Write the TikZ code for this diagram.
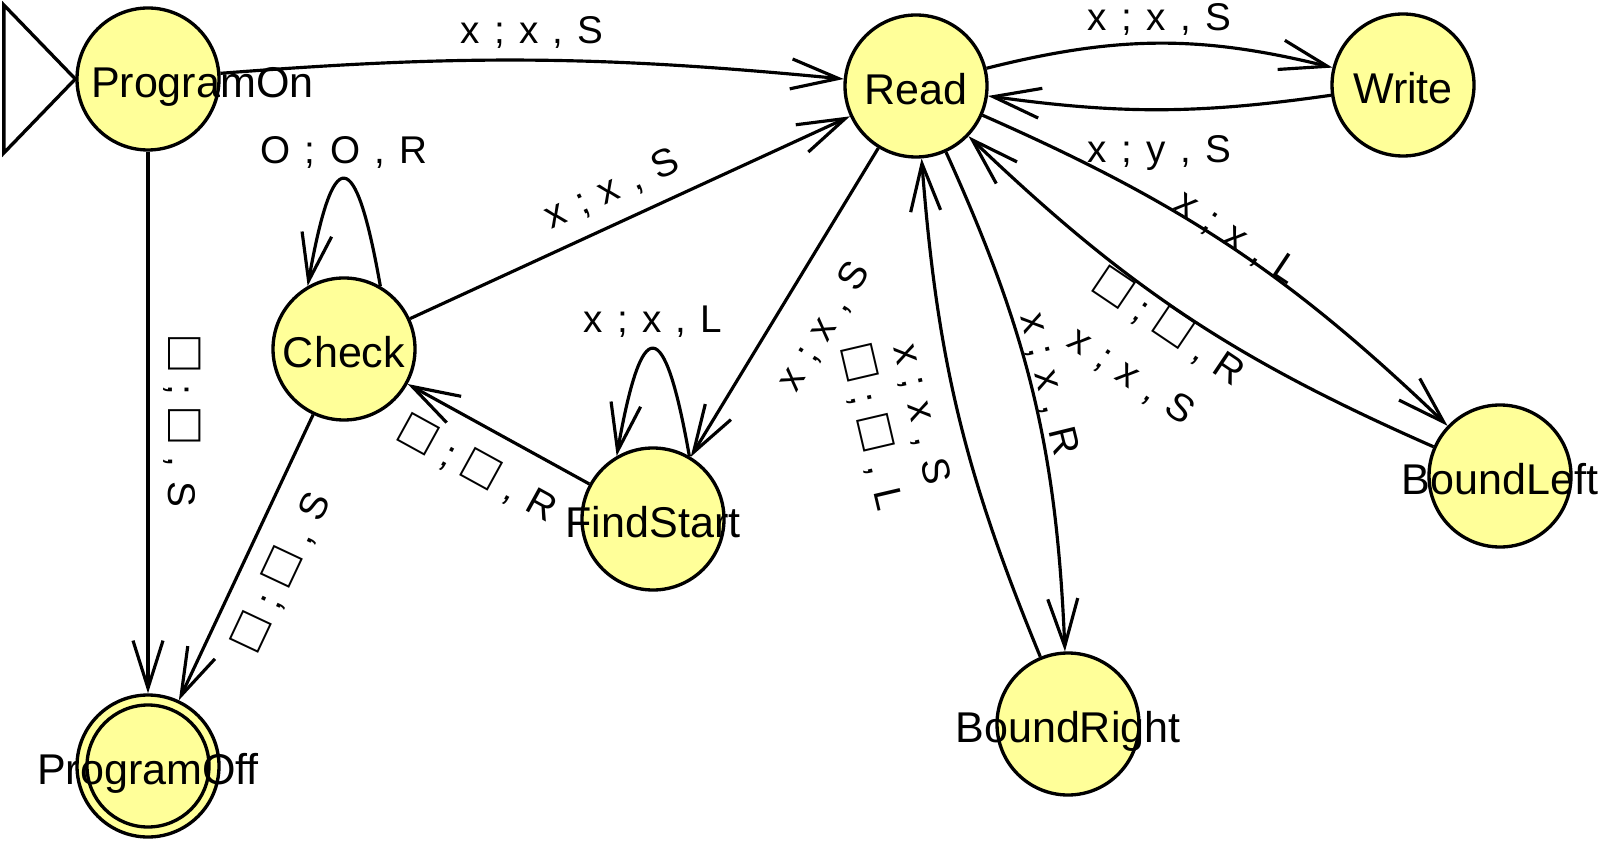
\documentclass[tikz,border=0pt]{standalone}
\usepackage{fontspec}
\setmainfont{Liberation Sans}
\usepackage{graphicx}
\usepackage{tikz}
\usetikzlibrary{arrows.meta}
\definecolor{stateyellow}{RGB}{255,255,153}
\newcommand{\transfont}{\fontsize{22}{34}\selectfont\spaceskip 0.37em\relax}
\newcommand{\blank}{\scalebox{1.4}{□}}
\tikzstyle{state} = [circle, minimum size=2.84cm, inner sep=0pt, draw=black,
line width=1.9pt, fill=stateyellow, text height=0.74cm, text depth=0pt,
font=\fontsize{24.5}{29}\selectfont]
\tikzstyle{trans} = [inner sep=0pt, text height=0.56cm, text depth=0pt,
font=\transfont]
\tikzstyle{arrow} =
[line width=1.8pt, -{Straight Barb[length=0.95cm, width=0.6cm]}]

\begin{document}
\begin{tikzpicture}[node distance=2.5cm]
\useasboundingbox (0,0) rectangle (32.02,-16.84);

\node(progon)[state] at (2.96,-1.58){\makebox[0pt][l]{\hspace{-1.14cm}ProgramOn}};
\node(read)[state, right of=progon, xshift=12.86cm, yshift=-0.14cm]{\makebox[0pt]{Read}};
\node(write)[state, right of=read, xshift=7.24cm, yshift=0.02cm]{\makebox[0pt]{Write}};
\node(check)[state, below of=progon, xshift=3.92cm, yshift=-2.9cm]{\makebox[0pt]{Check}};
\node(findstart)[state, right of=check, xshift=3.68cm, yshift=-3.4cm]{\makebox[0pt]{FindStart}};
\node(boundleft)[state, below of=write, xshift=1.94cm, yshift=-5.32cm]{\makebox[0pt]{BoundLeft}};
\node(boundright)[state, below of=read, xshift=3.04cm, yshift=-10.26cm]{\makebox[0pt]{BoundRight}};
\node(progoff)[state, below of=progon, yshift=-11.24cm]{\makebox[0pt]{ProgramOff}};

\draw[line width=1.9pt](progoff.center) circle (1.22cm);
\draw[line width=1.9pt](progon.west) -- ++(-1.43,1.48) -- ++(0,-2.96) -- cycle;

\draw[arrow](progon) to[bend left=5] node[trans, above=0.3cm](l1){x ; x , S}(read);
\draw[arrow](read) to[bend left=14] node[trans, above=0.22cm](l2){x ; x , S}(write);
\draw[arrow](write) to[bend left=8] node[trans, below=0.46cm](l3){x ; y , S}(read);
\draw[arrow](read) to[bend left=10] node[trans, sloped, above=-0.04cm](l4){x ; x , L}(boundleft);
\draw[arrow](boundleft) to[bend left=10] node[trans, sloped, pos=0.51, below=0.06cm](l5){\blank{} ; \blank{} , R}
node[trans, sloped, pos=0.52, below=1.26cm](l6){x ; x , S}(read);
\draw[arrow](read) to[bend left=11] node[trans, sloped, pos=0.485, above=0.09cm](l7){x ; x , R}(boundright);
\draw[arrow](boundright) to[bend left=9] node[trans, sloped, pos=0.515, below=0.36cm](l8){x ; x , S}
node[trans, sloped, pos=0.51, below=1.42cm](l9){\blank{} ; \blank{} , L}(read);
\draw[arrow](read) -- node[trans, sloped, below=0.56cm](l10){x ; x , S}(findstart);
\draw[arrow](check) -- node[trans, sloped, pos=0.49, above=0.4cm](l11){x ; x , S}(read);
\draw[arrow](check.60) to[out=100, in=80, distance=2.9cm] node[trans, above=0.28cm](l12){O ; O , R}(check.120);
\draw[arrow](findstart.60) to[out=100, in=80, distance=2.9cm] node[trans, above=0.3cm](l13){x ; x , L}(findstart.120);
\draw[arrow](findstart) -- node[trans, sloped, below=0.5cm](l14){\blank{} ; \blank{} , R}(check);
\draw[arrow](check) -- node[trans, sloped, pos=0.49, below=0.46cm](l15){\blank{} ; \blank{} , S}(progoff);
\draw[arrow](progon) -- node[trans, sloped, above=0.38cm](l16){\blank{} ; \blank{} , S}(progoff);

\end{tikzpicture}
\end{document}
